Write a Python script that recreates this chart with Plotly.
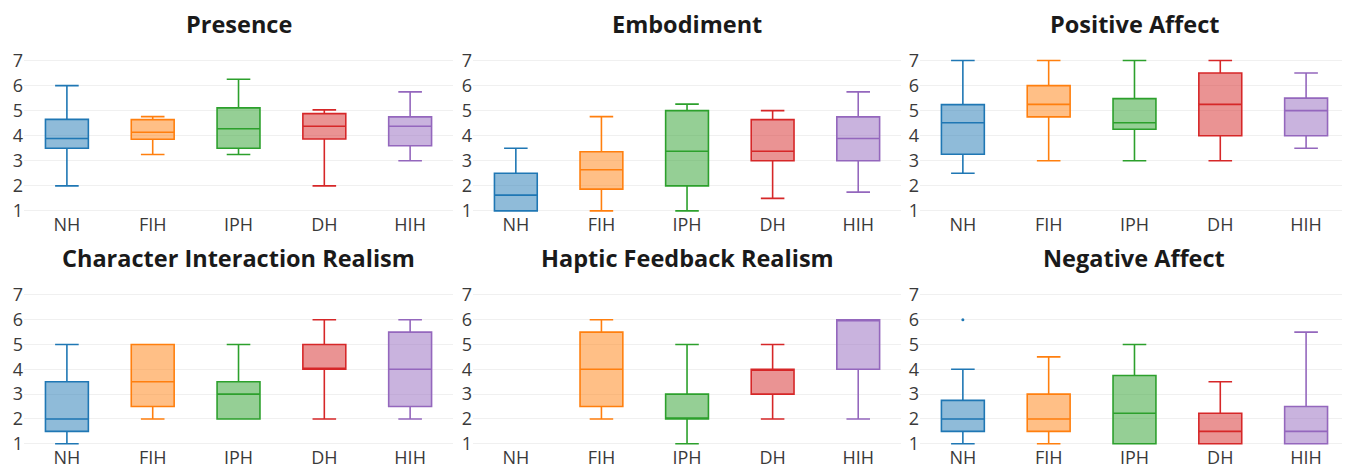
import plotly.graph_objects as go

groups = ["NH", "FIH", "IPH", "DH", "HIH"]
colors = ["#1f77b4", "#ff7f0e", "#2ca02c", "#d62728", "#9467bd"]
titles = ["Presence", "Embodiment", "Positive Affect",
          "Character Interaction Realism", "Haptic Feedback Realism", "Negative Affect"]

# per panel: lowerfence, q1, median, q3, upperfence for NH, FIH, IPH, DH, HIH (None = no data)
presence_low = [2.0, 3.25, 3.25, 2.0, 3.0]
presence_q1 = [3.5, 3.86, 3.5, 3.87, 3.6]
presence_med = [3.89, 4.14, 4.28, 4.38, 4.38]
presence_q3 = [4.65, 4.64, 5.11, 4.88, 4.75]
presence_up = [6.0, 4.76, 6.25, 5.03, 5.75]

embodiment_low = [1.0, 1.0, 1.0, 1.5, 1.75]
embodiment_q1 = [1.0, 1.87, 2.0, 3.0, 3.0]
embodiment_med = [1.63, 2.64, 3.38, 3.38, 3.89]
embodiment_q3 = [2.5, 3.36, 5.0, 4.64, 4.75]
embodiment_up = [3.5, 4.76, 5.26, 5.0, 5.75]

posaff_low = [2.5, 3.0, 3.0, 3.0, 3.5]
posaff_q1 = [3.26, 4.75, 4.26, 4.0, 4.0]
posaff_med = [4.52, 5.25, 4.52, 5.25, 5.0]
posaff_q3 = [5.24, 6.0, 5.48, 6.5, 5.5]
posaff_up = [7.0, 7.0, 7.0, 7.0, 6.5]

charint_low = [1.0, 2.0, 2.0, 2.0, 2.0]
charint_q1 = [1.5, 2.5, 2.0, 4.0, 2.5]
charint_med = [2.0, 3.5, 3.0, 4.0, 4.0]
charint_q3 = [3.5, 5.0, 3.5, 5.0, 5.5]
charint_up = [5.0, 5.0, 5.0, 6.0, 6.0]

haptic_low = [None, 2.0, 1.0, 2.0, 2.0]
haptic_q1 = [None, 2.5, 2.0, 3.0, 4.0]
haptic_med = [None, 4.0, 2.0, 4.0, 6.0]
haptic_q3 = [None, 5.5, 3.0, 4.0, 6.0]
haptic_up = [None, 6.0, 5.0, 5.0, 6.0]

negaff_low = [1.0, 1.0, 1.0, 1.0, 1.0]
negaff_q1 = [1.5, 1.5, 1.0, 1.0, 1.0]
negaff_med = [2.0, 2.0, 2.23, 1.5, 1.5]
negaff_q3 = [2.75, 3.0, 3.75, 2.23, 2.5]
negaff_up = [4.0, 4.5, 5.0, 3.5, 5.5]

negaff_outlier_group = ["NH"]
negaff_outlier_value = [6.0]

panels = [
    (presence_low, presence_q1, presence_med, presence_q3, presence_up),
    (embodiment_low, embodiment_q1, embodiment_med, embodiment_q3, embodiment_up),
    (posaff_low, posaff_q1, posaff_med, posaff_q3, posaff_up),
    (charint_low, charint_q1, charint_med, charint_q3, charint_up),
    (haptic_low, haptic_q1, haptic_med, haptic_q3, haptic_up),
    (negaff_low, negaff_q1, negaff_med, negaff_q3, negaff_up),
]

# page has an 8px body margin; figure sized so content lands where the reference has it
W, H = 1342, 459
ml, mr, mt, mb = 16, 1, 45, 22
xdom = [[0.0, 0.3238], [0.3389, 0.6619], [0.6762, 1.0]]
ydom = [[0.594, 1.0], [0.0, 0.402]]

fig = go.Figure()
layout = {}
font_family = "Open Sans"
for p, data in enumerate(panels):
    r, c = divmod(p, 3)
    idx = p + 1
    xa = "x" if idx == 1 else f"x{idx}"
    ya = "y" if idx == 1 else f"y{idx}"
    low, q1, med, q3, up = data
    for g, grp in enumerate(groups):
        if med[g] is None:
            continue
        fig.add_trace(go.Box(
            x=[grp], q1=[q1[g]], median=[med[g]], q3=[q3[g]],
            lowerfence=[low[g]], upperfence=[up[g]],
            marker_color=colors[g], line=dict(color=colors[g], width=1.6),
            width=0.5, whiskerwidth=0.55, boxpoints=False,
            xaxis=xa, yaxis=ya, showlegend=False, hoverinfo="skip"))
    layout[f"xaxis{'' if idx == 1 else idx}"] = dict(
        domain=xdom[c], anchor=ya, type="category", automargin=False,
        categoryorder="array", categoryarray=groups, range=[-0.5, 4.5],
        showgrid=False, zeroline=False, showline=False, ticks="",
        tickfont=dict(family=font_family, size=18, color="#3a3a3a"))
    layout[f"yaxis{'' if idx == 1 else idx}"] = dict(
        domain=ydom[r], anchor=xa, automargin=False,
        range=[0.95, 7.3],
        tickvals=[1, 2, 3, 4, 5, 6, 7], showgrid=True, gridcolor="#f0f0f0",
        gridwidth=1, zeroline=False, showline=False, ticks="",
        tickfont=dict(family=font_family, size=18, color="#3a3a3a"))

fig.add_trace(go.Scatter(
    x=negaff_outlier_group, y=negaff_outlier_value, mode="markers",
    marker=dict(color=colors[0], size=3), xaxis="x6", yaxis="y6",
    showlegend=False, hoverinfo="skip"))

annotations = []
for p, t in enumerate(titles):
    r, c = divmod(p, 3)
    ycen = (24 if r == 0 else 258) - 8
    annotations.append(dict(
        text=f"<b>{t}</b>", xref="paper", yref="paper",
        x=(xdom[c][0] + xdom[c][1]) / 2,
        y=(H - mb - ycen) / (H - mt - mb),
        xanchor="center", yanchor="middle", showarrow=False,
        font=dict(family=font_family, size=23.5, color="#1a1a1a")))

fig.update_layout(
    width=W, height=H, margin=dict(l=ml, r=mr, t=mt, b=mb, autoexpand=False),
    paper_bgcolor="white", plot_bgcolor="white", boxmode="overlay",
    annotations=annotations, **layout)

fig.write_html("out.html")
